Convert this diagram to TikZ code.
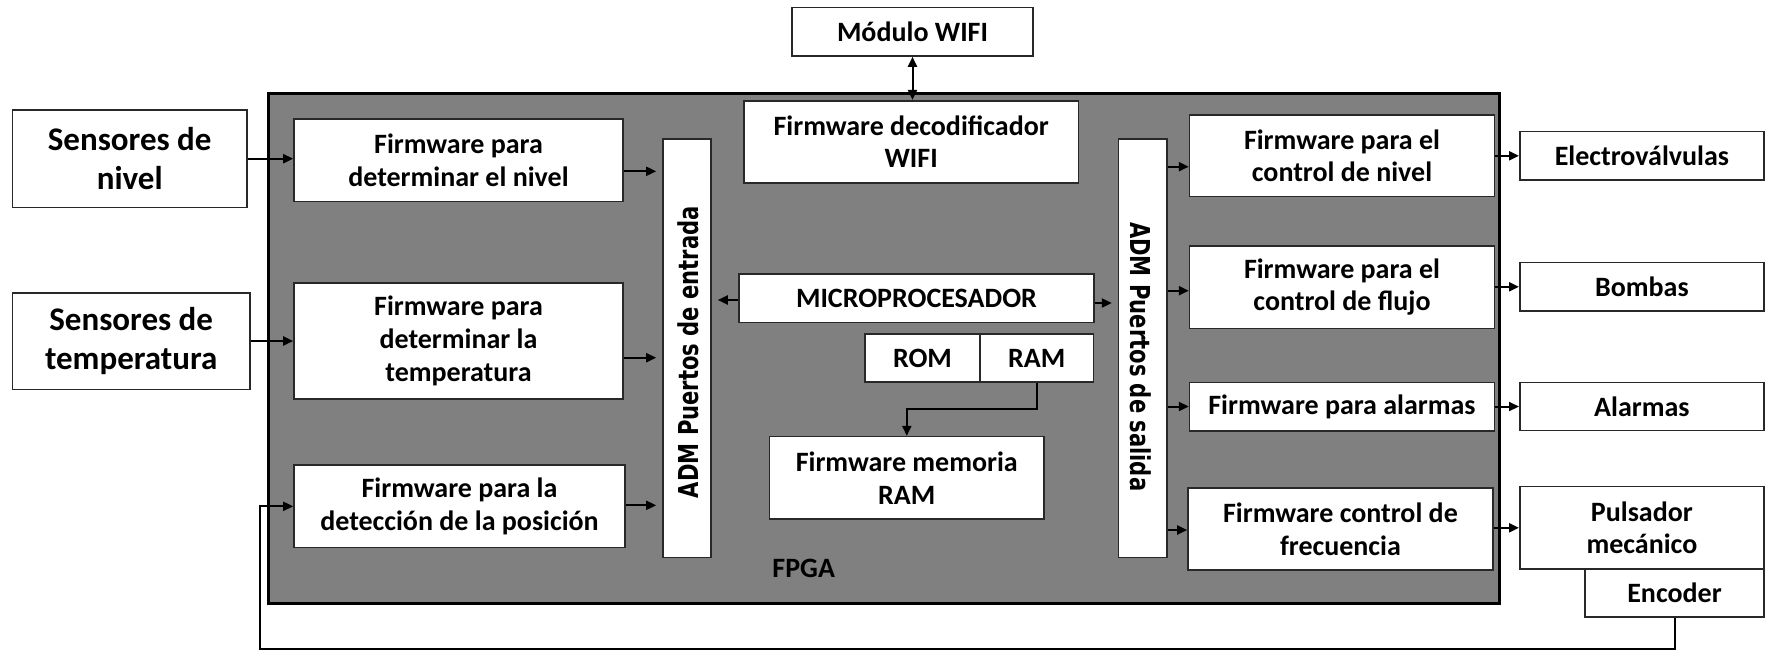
\documentclass[tikz,border=0pt]{standalone}
\usepackage{fontspec}
\setmainfont{Carlito}
\newfontfamily\admfont{DejaVu Sans}
\usetikzlibrary{arrows.meta,calc}
\definecolor{fpgagray}{RGB}{128,128,128}
\definecolor{boxline}{RGB}{40,40,40}
\tikzset{
  box/.style={draw=boxline, line width=0.8pt, fill=white, align=center, inner sep=1pt,
    font=\bfseries\fontsize{14}{16.4}\selectfont},
  bigbox/.style={box, font=\bfseries\fontsize{16.5}{19.8}\selectfont},
  sz/.style 2 args={minimum width=#1*0.5pt, minimum height=#2*0.5pt},
  arr/.style={line width=1pt, -{Triangle[length=5pt,width=4.5pt]}},
  admtext/.style={inner sep=0pt, font=\admfont\bfseries\fontsize{13.7}{14}\selectfont},
}
\begin{document}
\begin{tikzpicture}[x=0.5pt, y=-0.5pt]
\useasboundingbox (0,0) rectangle (1769,650);

% FPGA board
\node[draw=black, line width=1.5pt, fill=fpgagray, sz={1230.5}{510}] (fpga) at (883.75,348.7) {};
\node[font=\bfseries\fontsize{14}{16}\selectfont] (fpgalbl) at (803.7,568.3) {FPGA};

% external blocks
\node[box, sz={241}{48.5}] (modwifi) at (912.5,31.75) {Módulo WIFI};
\node[bigbox, sz={234.6}{97.4}] (sennivel) at (129.7,158.7) {Sensores de\\nivel};
\node[bigbox, sz={237.6}{96.6}] (sentemp) at (131.2,341) {Sensores de\\temperatura};
\node[box, sz={244.2}{48.3}] (elec) at (1641.9,155.8) {Electroválvulas};
\node[box, sz={244.2}{48.3}] (bombas) at (1641.9,286.8) {Bombas};
\node[box, sz={244.2}{48.3}] (alarmas) at (1641.9,406.5) {Alarmas};
\node[box, sz={244.2}{82.3}] (pulsador) at (1641.9,527.8) {Pulsador\\mecánico};
\node[box, sz={179}{48}] (encoder) at (1674.5,593) {Encoder};

% input firmware
\node[box, sz={329}{82.6}] (fwnivel) at (458.5,160) {Firmware para\\determinar el nivel};
\node[box, sz={329}{116}] (fwtemp) at (458.5,341) {Firmware para\\determinar la\\temperatura};
\node[box, sz={331}{82.7}] (fwpos) at (459.5,506.3) {Firmware para la\\detección de la posición};

% ports
\node[box, sz={48}{418.6}] (admin) at (687,348) {};
\node[admtext, rotate=90] (admintxt) at (688,352) {\scalebox{0.77}[1]{ADM Puertos de entrada}};
\node[box, sz={48.3}{418.6}] (admout) at (1142.8,348) {};
\node[admtext, rotate=-90] (admouttxt) at (1141,356.7) {\scalebox{0.77}[1]{ADM Puertos de salida}};

% core
\node[box, sz={334.5}{82}] (fwdec) at (911.2,141.7) {Firmware decodificador\\WIFI};
\node[box, sz={355}{48.7}] (micro) at (916.5,298.3) {MICROPROCESADOR};
\node[box, sz={115}{48}] (rom) at (922.5,358) {ROM};
\node[box, sz={113.5}{48}] (ram) at (1036.7,358) {RAM};
\node[box, sz={274.4}{82.3}] (fwmem) at (906.8,477.8) {Firmware memoria\\RAM};

% output firmware
\node[box, sz={304.8}{81.7}] (fwcn) at (1342,155.8) {Firmware para el\\control de nivel};
\node[box, sz={304.8}{82.6}] (fwcf) at (1342,287) {Firmware para el\\control de flujo};
\node[box, sz={304.8}{48.4}] (fwal) at (1342,406.5) {Firmware para alarmas};
\node[box, sz={305}{82}] (fwfr) at (1340.5,529) {Firmware control de\\frecuencia};

% connections
\draw[line width=1pt, {Triangle[length=5pt,width=4.5pt]}-{Triangle[length=5pt,width=4.5pt]}]
  (modwifi.south) -- (modwifi.south |- fwdec.north);
\draw[arr] (sennivel.east) -- (sennivel.east -| fwnivel.west);
\draw[arr] (sentemp.east) -- (sentemp.east -| fwtemp.west);
\draw[arr, shorten >=3pt] (fwnivel.east |- 0,171.3) -- (admin.west |- 0,171.3);
\draw[arr, shorten >=3pt] (fwtemp.east |- 0,357.7) -- (admin.west |- 0,357.7);
\draw[arr, shorten >=3pt] (fwpos.east |- 0,505.3) -- (admin.west |- 0,505.3);
\draw[arr, shorten >=3pt] (micro.west |- 0,300) -- (admin.east |- 0,300);
\draw[arr, shorten >=3pt] (micro.east |- 0,303) -- (admout.west |- 0,303);
\draw[arr] (admout.east |- 0,166.7) -- (fwcn.west |- 0,166.7);
\draw[arr] (admout.east |- 0,290.7) -- (fwcf.west |- 0,290.7);
\draw[arr] (admout.east |- 0,406.5) -- (fwal.west |- 0,406.5);
\draw[arr] (admout.east |- 0,530) -- (fwfr.west |- 0,530);
\draw[arr] (fwcn.east) -- (elec.west);
\draw[arr] (fwcf.east |- bombas.west) -- (bombas.west);
\draw[arr] (fwal.east) -- (alarmas.west);
\draw[arr] (fwfr.east |- pulsador.west) -- (pulsador.west);
\draw[arr] (ram.south) -- ++(0,26) -| (fwmem.north);
\coordinate (fbl) at (259.5,649);
\draw[arr] (encoder.south) |- (fbl) |- (fwpos.west);
\end{tikzpicture}
\end{document}
